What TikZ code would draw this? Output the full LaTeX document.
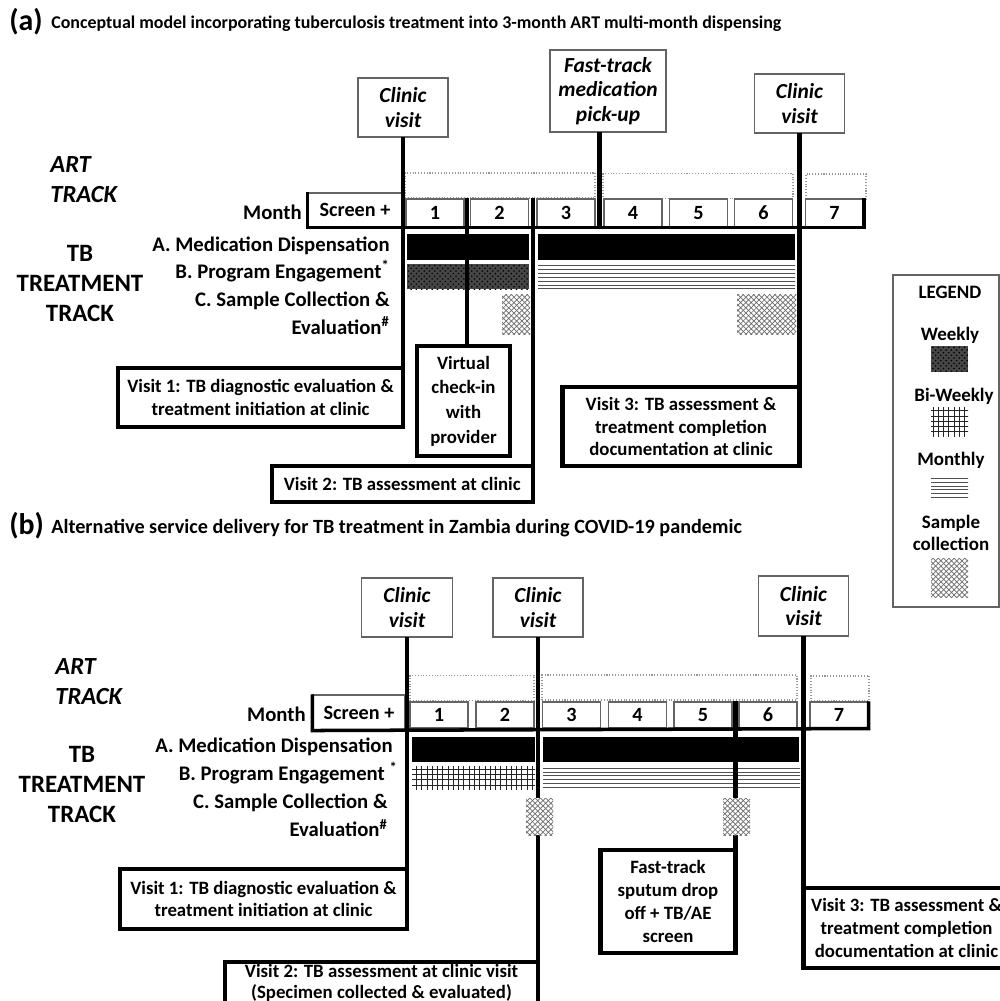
\documentclass[tikz,border=0pt]{standalone}
\usepackage{fontspec}
\setmainfont{Carlito}[Numbers=Lining]
\usetikzlibrary{positioning,calc,patterns}
\definecolor{boxgray}{RGB}{100,100,100}
\definecolor{artgray}{RGB}{150,150,150}
\definecolor{weekgray}{RGB}{70,70,70}
\definecolor{linegray}{RGB}{80,80,80}
\definecolor{samplegray}{RGB}{110,110,110}
\newlength{\pxl}
\setlength{\pxl}{0.02cm}
\pgfdeclarepatternformonly{monthlines}{\pgfpoint{-1pt}{-1pt}}{\pgfpoint{10pt}{1pt}}{\pgfpoint{10pt}{2.2pt}}{%
  \pgfsetlinewidth{0.55pt}\pgfpathmoveto{\pgfpoint{-0.1pt}{0.5pt}}\pgfpathlineto{\pgfpoint{10.1pt}{0.5pt}}\pgfusepath{stroke}}

\begin{document}
\begin{tikzpicture}[x=0.02cm,y=-0.02cm,
  cvbox/.style={draw=boxgray,line width=0.9pt,fill=white,font=\fontsize{12.2}{14}\selectfont\bfseries\itshape,align=center,inner sep=0pt,outer sep=0pt,minimum width=90\pxl,minimum height=59\pxl},
  visitbox/.style={draw,line width=2.3pt,fill=white,font=\fontsize{10.7}{13}\selectfont\bfseries,align=center,inner sep=0pt,outer sep=0pt},
  artbox/.style={draw=artgray,densely dotted,line width=0.6pt,inner sep=0pt,minimum height=25\pxl},
  mcell/.style={draw=boxgray,line width=0.6pt,fill=white,inner sep=0pt,minimum width=58\pxl,minimum height=28\pxl,font=\fontsize{11.5}{12}\selectfont\bfseries},
  lbl/.style={font=\fontsize{11.8}{16}\selectfont\bfseries,inner sep=0pt,align=right},
  track/.style={font=\fontsize{14.2}{17}\selectfont\bfseries,inner sep=0pt,align=center},
  arttrack/.style={font=\fontsize{14}{17}\selectfont\bfseries\itshape,inner sep=0pt,align=left},
  ttl/.style={font=\fontsize{10.2}{12}\selectfont\bfseries,inner sep=0pt,anchor=west},
  tag/.style={font=\fontsize{17}{17}\selectfont\bfseries,inner sep=0pt,anchor=west},
  lgtext/.style={font=\fontsize{10.8}{12.5}\selectfont\bfseries,inner sep=0pt,align=center},
  conn/.style={line width=2.3pt},
  base/.style={line width=2pt},
  weekly/.style={preaction={fill=weekgray},pattern=crosshatch dots,pattern color=black},
  biweekly/.style={pattern=grid,pattern color=black!85},
  monthly/.style={pattern=monthlines,pattern color=linegray},
  sample/.style={preaction={fill=white},pattern=crosshatch,pattern color=samplegray}]
  \useasboundingbox (0,0) rectangle (1000,1001);

  % ---------------- (a) ----------------
  \node[tag] (taga) at (9,22) {(a)};
  \node[ttl] (ttla) at (51,24) {Conceptual model incorporating tuberculosis treatment into 3-month ART multi-month dispensing};
  % visit call-outs
  \node[cvbox] (cv1a) at (403,107.5) {Clinic\\visit};
  \node[cvbox,minimum width=116\pxl,minimum height=82\pxl] (ftma) at (608,91) {Fast-track\\medication\\pick-up};
  \node[cvbox] (cv3a) at (799.5,103.5) {Clinic\\visit};
  % ART track
  \node[arttrack,anchor=west] (arta) at (50,180) {ART\\TRACK};
  \node[artbox,minimum width=190\pxl] (art1a) at (500,185.5) {};
  \node[artbox,minimum width=190\pxl] (art2a) at (698,186) {};
  \node[artbox,minimum width=60\pxl] (art3a) at (836,186.5) {};
  % months
  \node[lbl,anchor=east] (mona) at (302,212) {Month};
  \node[mcell,minimum width=94\pxl,minimum height=34\pxl] (scra) at (355,210) {Screen +};
  \foreach \x [count=\i] in {435,499.5,566,633,698.5,763.5,834.5}
    \node[mcell] (ma\i) at (\x,213) {\i};
  \draw[base] (scra.north west) -- (scra.south west) -- (ma7.south east) -- (ma7.north east);
  \coordinate (g12a) at ($(ma1.south east)!0.5!(ma2.south west)$);
  \coordinate (g23a) at ($(ma2.south east)!0.5!(ma3.south west)$);
  \coordinate (g34a) at ($(ma3.south east)!0.5!(ma4.south west)$);
  % TB treatment track
  \node[track] (tba) at (80,283.5) {TB\\TREATMENT\\TRACK};
  \node[lbl,anchor=east] (meda) at (390,246) {A. Medication Dispensation};
  \node[lbl,anchor=east] (proga) at (390,271) {B. Program Engagement\textsuperscript{*}};
  \node[lbl,anchor=east] (smpa) at (390,313) {C. Sample Collection \&\\Evaluation\textsuperscript{\#}};
  \fill (407,234) rectangle (529,260);
  \fill (538,234) rectangle (795,260);
  \path[weekly] (407,264) rectangle (529,289);
  \path[monthly] (538,264) rectangle (795,289);
  \path[sample] (502,294) rectangle (530,334);
  \path[sample] (737,294) rectangle (796,334);
  % visit boxes
  \node[visitbox,anchor=north east,minimum width=285\pxl,minimum height=59\pxl] (v1a) at (403,368) {Visit 1: TB diagnostic evaluation \&\\treatment initiation at clinic};
  \node[visitbox,minimum width=93\pxl,minimum height=110\pxl,font=\fontsize{10.7}{14}\selectfont\bfseries] (vcia) at (463.5,401) {Virtual\\check-in\\with\\provider};
  \node[visitbox,anchor=north east,minimum width=261\pxl,minimum height=36\pxl] (v2a) at (532.75,466) {Visit 2: TB assessment at clinic};
  \node[visitbox,anchor=north east,minimum width=237\pxl,minimum height=79\pxl] (v3a) at (799.5,387) {Visit 3: TB assessment \&\\treatment completion\\documentation at clinic};
  \draw[conn] (cv1a.south) -- (cv1a.south |- v1a.north);
  \draw[conn] (ftma.south -| g34a) -- (g34a);
  \draw[conn] (g12a |- ma1.north) -- (g12a |- vcia.north);
  \draw[conn] (g23a |- ma2.north) -- (g23a |- v2a.north);
  \draw[conn] (cv3a.south) -- (cv3a.south |- v3a.north);

  % legend
  \node[draw=boxgray,line width=0.9pt,minimum width=106\pxl,minimum height=332\pxl,inner sep=0pt] (lgd) at (946,441) {};
  \node[lgtext] (lgt) at (950,292) {LEGEND};
  \node[lgtext] (lgw) at (950,335) {Weekly};
  \path[weekly] (931,346) rectangle (968,372);
  \node[lgtext] (lgb) at (954,396) {Bi-Weekly};
  \path[biweekly] (931,407) rectangle (968,436);
  \node[lgtext] (lgm) at (951,460) {Monthly};
  \path[monthly] (931,475) rectangle (968,500);
  \node[lgtext] (lgs) at (951,532.5) {Sample\\collection};
  \path[sample] (931,558) rectangle (968,597);

  % ---------------- (b) ----------------
  \node[tag] (tagb) at (9,526) {(b)};
  \node[ttl,font=\fontsize{11.5}{12}\selectfont\bfseries] (ttlb) at (51,528) {Alternative service delivery for TB treatment in Zambia during COVID-19 pandemic};
  % visit call-outs
  \node[cvbox,minimum width=91\pxl] (cv1b) at (407,607.5) {Clinic\\visit};
  \node[cvbox] (cv2b) at (538,607.5) {Clinic\\visit};
  \node[cvbox,minimum height=60\pxl] (cv3b) at (803.5,606) {Clinic\\visit};
  % ART track
  \node[arttrack,anchor=west] (artb) at (55,682) {ART\\TRACK};
  \node[artbox,minimum width=124\pxl] (art1b) at (472,688) {};
  \node[artbox,minimum width=255\pxl] (art2b) at (669.5,687.5) {};
  \node[artbox,minimum width=58\pxl] (art3b) at (840,688.5) {};
  % months
  \node[lbl,anchor=east] (monb) at (306,714) {Month};
  \node[mcell,minimum width=92\pxl,minimum height=35\pxl] (scrb) at (359,712.5) {Screen +};
  \foreach \x [count=\i] in {439,505,571.5,637.5,703,768,839}
    \node[mcell,minimum height=26\pxl] (mb\i) at (\x,715) {\i};
  \draw[base] (scrb.north west) -- (scrb.south west) -- (mb7.south east) -- (mb7.north east);
  \coordinate (g56b) at ($(mb5.south east)!0.5!(mb6.south west)$);
  % TB treatment track
  \node[track] (tbb) at (82,784.5) {TB\\TREATMENT\\TRACK};
  \node[lbl,anchor=east] (medb) at (393,747) {A. Medication Dispensation};
  \node[lbl,anchor=east] (progb) at (398,773) {B. Program Engagement \textsuperscript{*}};
  \node[lbl,anchor=east] (smpb) at (388,815.5) {C. Sample Collection \&\\Evaluation\textsuperscript{\#}};
  \fill (412,737) rectangle (535,762);
  \fill (543,737) rectangle (799,762);
  \path[biweekly] (412,766) rectangle (535,789);
  \path[monthly] (543,766) rectangle (800,789);
  % visit boxes
  \node[visitbox,anchor=north east,minimum width=287\pxl,minimum height=60\pxl] (v1b) at (407,869) {Visit 1: TB diagnostic evaluation \&\\treatment initiation at clinic};
  \node[visitbox,anchor=north east,minimum width=313\pxl,minimum height=42\pxl,font=\fontsize{10.7}{12}\selectfont\bfseries] (v2b) at (538,962) {Visit 2: TB assessment at clinic visit\\(Specimen collected \& evaluated)};
  \node[visitbox,anchor=north east,minimum width=135\pxl,minimum height=103\pxl,font=\fontsize{10.7}{13}\selectfont\bfseries] (ftsb) at (735.5,850) {Fast-track\\sputum drop\\off + TB/AE\\screen};
  \node[visitbox,anchor=north west,minimum width=206\pxl,minimum height=80\pxl] (v3b) at (803.5,888) {Visit 3: TB assessment \&\\treatment completion\\documentation at clinic};
  \draw[conn] (cv1b.south) -- (cv1b.south |- v1b.north);
  \draw[conn] (cv2b.south) -- (cv2b.south |- v2b.north);
  \draw[conn] (g56b |- mb5.north) -- (g56b |- ftsb.north);
  \draw[conn] (cv3b.south) -- (cv3b.south |- v3b.north);
  \path[sample] (526,798) rectangle (553,835);
  \path[sample] (723,798) rectangle (750,835);
\end{tikzpicture}
\end{document}
